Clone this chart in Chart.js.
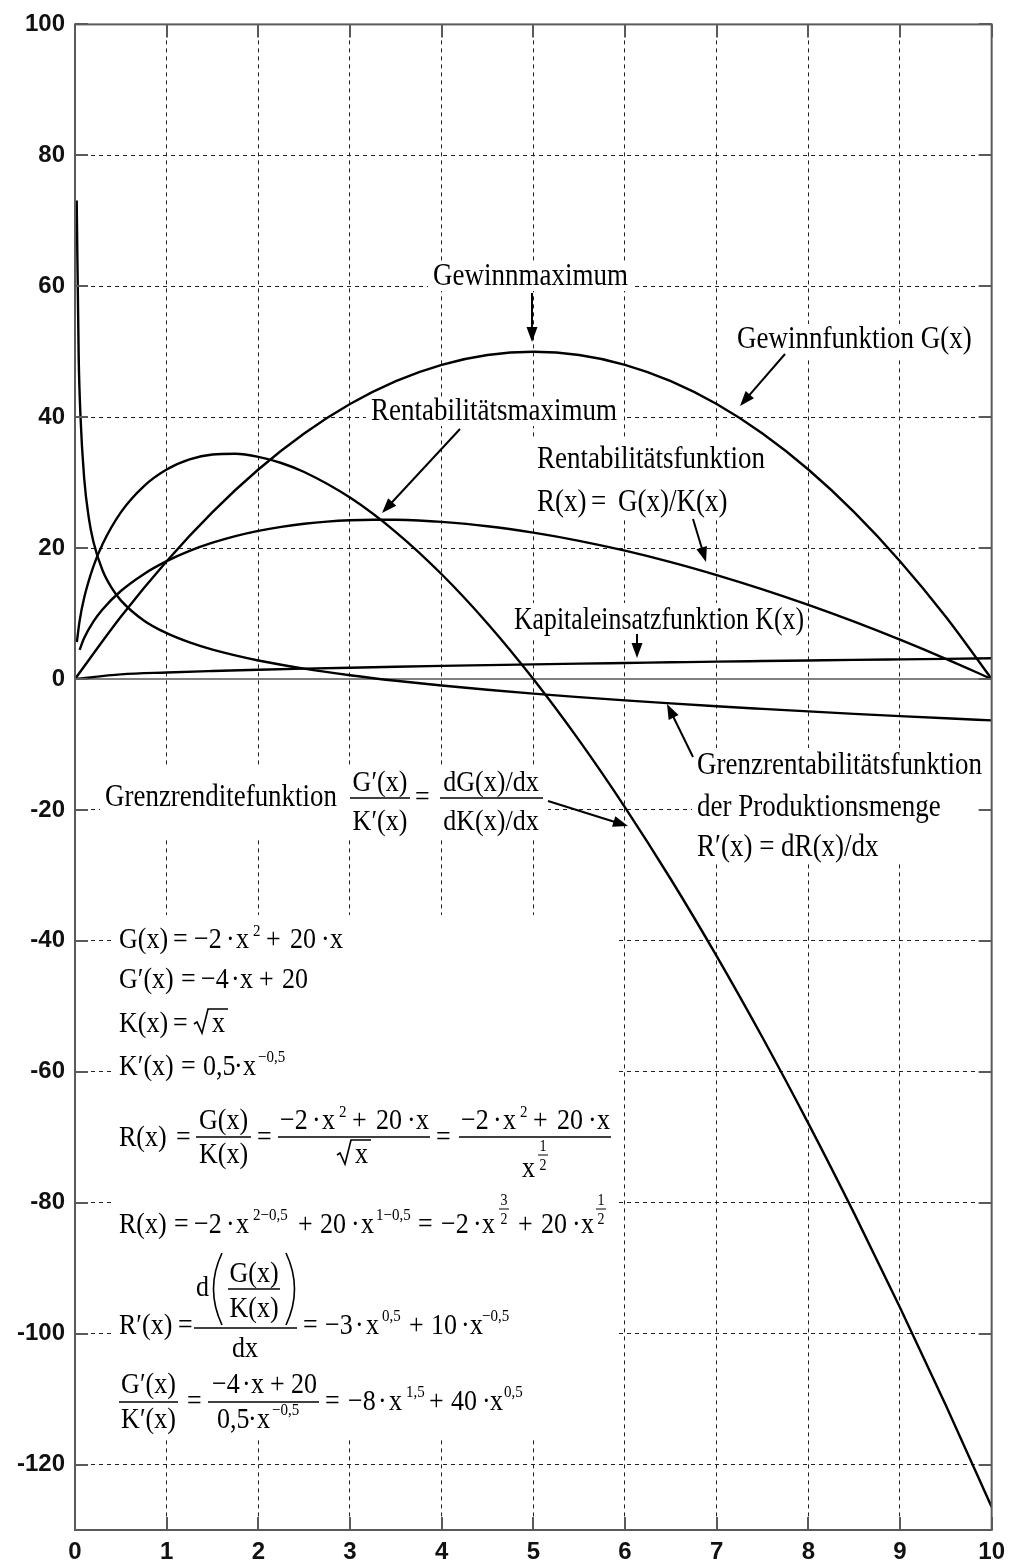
<!DOCTYPE html>
<html>
<head>
<meta charset="utf-8">
<script src="https://cdn.jsdelivr.net/npm/chart.js@4.4.0/dist/chart.umd.min.js"></script>
<style>
html, body { margin: 0; padding: 0; background: #fff; }
#wrap { width: 1013px; height: 1564px; }
</style>
</head>
<body>
<div id="wrap"><canvas id="chart" width="1013" height="1564"></canvas></div>
<script>
// Axis ticks
const xTicks = [0, 1, 2, 3, 4, 5, 6, 7, 8, 9, 10];
const yTicks = [-120, -100, -80, -60, -40, -20, 0, 20, 40, 60, 80, 100];

// Gewinnfunktion G(x) and Kapitaleinsatzfunktion K(x)
const xHalf = [0, 0.5, 1, 1.5, 2, 2.5, 3, 3.5, 4, 4.5, 5, 5.5, 6, 6.5, 7, 7.5, 8, 8.5, 9, 9.5, 10];
const gewinn = [0, 9.5, 18, 25.5, 32, 37.5, 42, 45.5, 48, 49.5, 50, 49.5, 48, 45.5, 42, 37.5, 32, 25.5, 18, 9.5, 0];
const kapital = [0, 0.71, 1, 1.22, 1.41, 1.58, 1.73, 1.87, 2, 2.12, 2.24, 2.35, 2.45, 2.55, 2.65, 2.74, 2.83, 2.92, 3, 3.08, 3.16];

// Rentabilitaetsfunktion R(x)
const xRent = [0.05, 0.1, 0.2, 0.3, 0.5, 0.75, 1, 1.25, 1.5, 1.75, 2, 2.25, 2.5, 2.75, 3, 3.25, 3.5, 3.75, 4, 4.5, 5, 5.5, 6, 6.5, 7, 7.5, 8, 8.5, 9, 9.5, 10];
const rentab = [4.45, 6.26, 8.77, 10.63, 13.44, 16.02, 18, 19.57, 20.82, 21.83, 22.63, 23.25, 23.72, 24.05, 24.25, 24.34, 24.32, 24.21, 24, 23.34, 22.36, 21.11, 19.6, 17.85, 15.87, 13.69, 11.31, 8.75, 6, 3.08, 0];

// Grenzrenditefunktion G'(x)/K'(x)
const xRendite = [0.02, 0.05, 0.1, 0.2, 0.3, 0.5, 0.75, 1, 1.25, 1.5, 1.75, 2, 2.25, 2.5, 3, 3.5, 4, 4.5, 5, 5.5, 6, 6.5, 7, 7.5, 8, 8.5, 9, 9.5, 10];
const grenzRendite = [5.63, 8.85, 12.4, 17.17, 20.59, 25.46, 29.44, 32, 33.54, 34.29, 34.4, 33.94, 33, 31.62, 27.71, 22.45, 16, 8.49, 0, -9.38, -19.6, -30.59, -42.33, -54.77, -67.88, -81.63, -96, -110.96, -126.49];

// Grenzrentabilitaetsfunktion R'(x)
const xGrenzRent = [0.0185, 0.04, 0.06, 0.1, 0.15, 0.2, 0.3, 0.4, 0.5, 0.75, 1, 1.25, 1.5, 2, 2.5, 3, 3.5, 4, 4.5, 5, 5.5, 6, 6.5, 7, 7.5, 8, 8.5, 9, 9.5, 10];
const grenzRentab = [73.1, 49.4, 40.09, 30.67, 24.66, 21.02, 16.61, 13.91, 12.02, 8.95, 7, 5.59, 4.49, 2.83, 1.58, 0.58, -0.27, -1, -1.65, -2.24, -2.77, -3.27, -3.73, -4.16, -4.56, -4.95, -5.32, -5.67, -6, -6.32];

// Nulllinie
const xZero = [0, 10];
const zeroLine = [0, 0];

const SERIF = '"Liberation Serif", "Times New Roman", serif';
const F = 26;     // formula font size
const S = 15;     // superscript font size
const VS = 1.15;  // the scan is a bit taller than wide

function pts(xs, ys) {
    return xs.map((x, i) => ({ x: x, y: ys[i] }));
}

function curve(label, xs, ys) {
    return {
        label: label,
        data: pts(xs, ys),
        borderColor: '#000',
        borderWidth: 2.4,
        pointRadius: 0,
        fill: false,
        cubicInterpolationMode: 'monotone'
    };
}

// ---- drawing helpers for the annotations ----
function draw(ctx, s, x, y, size, align, maxW) {
    ctx.save();
    ctx.font = (size || F) + 'px ' + SERIF;
    ctx.textAlign = align;
    ctx.textBaseline = 'alphabetic';
    ctx.translate(x, y);
    ctx.scale(1, VS);
    if (maxW) ctx.fillText(s, 0, 0, maxW);
    else ctx.fillText(s, 0, 0);
    ctx.restore();
}

function txt(ctx, s, x, y, size, maxW) {
    draw(ctx, s, x, y, size, 'left', maxW);
}

function ctr(ctx, s, cx, y, size) {
    draw(ctx, s, cx, y, size, 'center');
}

function hbar(ctx, x0, x1, y, w) {
    ctx.lineWidth = w || 1.6;
    ctx.beginPath();
    ctx.moveTo(x0, y);
    ctx.lineTo(x1, y);
    ctx.stroke();
}

function supFrac(ctx, a, b, cx, barY) {
    ctr(ctx, a, cx, barY - 4, 14);
    hbar(ctx, cx - 5, cx + 5, barY, 1);
    ctr(ctx, b, cx, barY + 15, 14);
}

function radical(ctx, x, base, w) {
    ctx.lineWidth = 1.6;
    ctx.beginPath();
    ctx.moveTo(x, base - 8);
    ctx.lineTo(x + 3, base - 10);
    ctx.lineTo(x + 8, base + 1);
    ctx.lineTo(x + 14, base - 23);
    ctx.lineTo(x + 14 + w, base - 23);
    ctx.stroke();
}

function arrow(ctx, x0, y0, x1, y1) {
    const a = Math.atan2(y1 - y0, x1 - x0);
    const len = 15, half = 5.5;
    ctx.lineWidth = 2;
    ctx.beginPath();
    ctx.moveTo(x0, y0);
    ctx.lineTo(x1 - Math.cos(a) * len * 0.8, y1 - Math.sin(a) * len * 0.8);
    ctx.stroke();
    ctx.beginPath();
    ctx.moveTo(x1, y1);
    ctx.lineTo(x1 - Math.cos(a) * len - Math.sin(a) * half, y1 - Math.sin(a) * len + Math.cos(a) * half);
    ctx.lineTo(x1 - Math.cos(a) * len + Math.sin(a) * half, y1 - Math.sin(a) * len - Math.cos(a) * half);
    ctx.closePath();
    ctx.fill();
}

// -2·x^2 + 20·x
function poly(ctx, x0, b) {
    txt(ctx, '\u22122', x0, b);
    txt(ctx, '\u00b7', x0 + 32, b);
    txt(ctx, 'x', x0 + 42, b);
    txt(ctx, '2', x0 + 59, b - 12, S);
    txt(ctx, '+', x0 + 72, b);
    txt(ctx, '20', x0 + 96, b);
    txt(ctx, '\u00b7', x0 + 127, b);
    txt(ctx, 'x', x0 + 136, b);
}

// white patches behind the text blocks
const patches = [
    [428, 262, 206, 29],
    [732, 324, 250, 34],
    [366, 398, 258, 28],
    [532, 440, 240, 80],
    [500, 603, 308, 34],
    [692, 748, 298, 114],
    [100, 768, 448, 72],
    [111, 915, 507, 525]
];

const annotations = {
    id: 'annotations',
    beforeDatasetsDraw(chart) {
        const ctx = chart.ctx;
        ctx.save();
        ctx.fillStyle = '#fff';
        patches.forEach(p => ctx.fillRect(p[0], p[1], p[2], p[3]));
        ctx.restore();
    },
    afterDatasetsDraw(chart) {
        const ctx = chart.ctx;
        const a = chart.chartArea;
        const xs = chart.scales.x, ys = chart.scales.y;
        ctx.save();

        // frame and inner tick marks
        ctx.strokeStyle = '#5a5a5a';
        ctx.lineWidth = 2;
        ctx.strokeRect(a.left, a.top, a.right - a.left, a.bottom - a.top);
        ctx.beginPath();
        yTicks.forEach(v => {
            const py = Math.round(ys.getPixelForValue(v));
            ctx.moveTo(a.left, py); ctx.lineTo(a.left + 13, py);
            ctx.moveTo(a.right - 13, py); ctx.lineTo(a.right, py);
        });
        xTicks.forEach(v => {
            const px = Math.round(xs.getPixelForValue(v));
            ctx.moveTo(px, a.top); ctx.lineTo(px, a.top + 13);
            ctx.moveTo(px, a.bottom - 13); ctx.lineTo(px, a.bottom);
        });
        ctx.stroke();

        ctx.fillStyle = '#000';
        ctx.strokeStyle = '#000';

        // labels
        txt(ctx, 'Gewinnmaximum', 433, 285, 27, 196);
        arrow(ctx, 532, 293, 532, 342);

        txt(ctx, 'Gewinnfunktion G(x)', 737, 348, 27, 240);
        arrow(ctx, 785, 354, 740, 406);

        txt(ctx, 'Rentabilit\u00e4tsmaximum', 371, 420, 27, 248);
        arrow(ctx, 460, 429, 382, 513);

        txt(ctx, 'Rentabilit\u00e4tsfunktion', 537, 468, 27, 231);
        txt(ctx, 'R(x)', 537, 511, 27);
        txt(ctx, '=', 591, 511, 27);
        txt(ctx, 'G(x)/K(x)', 618, 511, 27);
        arrow(ctx, 693, 519, 706, 562);

        txt(ctx, 'Kapitaleinsatzfunktion K(x)', 514, 629, 27, 290);
        arrow(ctx, 637, 634, 637, 658);

        txt(ctx, 'Grenzrentabilit\u00e4tsfunktion', 697, 774, 27, 286);
        txt(ctx, 'der Produktionsmenge', 697, 816, 27);
        txt(ctx, 'R\u2032(x) = dR(x)/dx', 697, 856, 27);
        arrow(ctx, 693, 757, 667, 704);

        // Grenzrenditefunktion G'(x)/K'(x) = dG(x)/dx / dK(x)/dx
        txt(ctx, 'Grenzrenditefunktion', 105, 806, 27, 232);
        ctr(ctx, 'G\u2032(x)', 380, 791);
        hbar(ctx, 350, 410, 798);
        ctr(ctx, 'K\u2032(x)', 380, 830);
        txt(ctx, '=', 415, 806);
        ctr(ctx, 'dG(x)/dx', 491, 791);
        hbar(ctx, 440, 543, 798);
        ctr(ctx, 'dK(x)/dx', 491, 830);
        arrow(ctx, 548, 801, 628, 826);

        // formula block
        let b = 948;
        txt(ctx, 'G(x)', 119, b); txt(ctx, '=', 173, b);
        poly(ctx, 194, b);

        b = 988;
        txt(ctx, 'G\u2032(x)', 119, b); txt(ctx, '=', 181, b);
        txt(ctx, '\u22124', 201, b); txt(ctx, '\u00b7', 231, b); txt(ctx, 'x', 240, b);
        txt(ctx, '+', 259, b); txt(ctx, '20', 282, b);

        b = 1032;
        txt(ctx, 'K(x)', 119, b); txt(ctx, '=', 173, b);
        radical(ctx, 194, b, 20);
        txt(ctx, 'x', 212, b);

        b = 1075;
        txt(ctx, 'K\u2032(x)', 119, b); txt(ctx, '=', 181, b);
        txt(ctx, '0,5', 203, b); txt(ctx, '\u00b7', 234, b); txt(ctx, 'x', 243, b);
        txt(ctx, '\u22120,5', 258, b - 13, S);

        // R(x) = G(x)/K(x) = ...
        let bar = 1137;
        b = bar + 9;
        txt(ctx, 'R(x)', 119, b); txt(ctx, '=', 176, b);
        ctr(ctx, 'G(x)', 223.5, bar - 8); hbar(ctx, 196, 251, bar); ctr(ctx, 'K(x)', 223.5, bar + 26);
        txt(ctx, '=', 257, b);
        poly(ctx, 280, bar - 8); hbar(ctx, 278, 430, bar);
        radical(ctx, 337, bar + 26, 20); txt(ctx, 'x', 355, bar + 26);
        txt(ctx, '=', 436, b);
        poly(ctx, 461, bar - 8); hbar(ctx, 459, 611, bar);
        txt(ctx, 'x', 522, 1177);
        supFrac(ctx, '1', '2', 543, 1155);

        // R(x) = -2 x^(2-0,5) + 20 x^(1-0,5) = -2 x^(3/2) + 20 x^(1/2)
        b = 1233;
        txt(ctx, 'R(x)', 119, b); txt(ctx, '=', 174, b);
        txt(ctx, '\u22122', 194, b); txt(ctx, '\u00b7', 226, b); txt(ctx, 'x', 236, b);
        txt(ctx, '2\u22120,5', 253, b - 13, S);
        txt(ctx, '+', 298, b); txt(ctx, '20', 320, b); txt(ctx, '\u00b7', 351, b); txt(ctx, 'x', 361, b);
        txt(ctx, '1\u22120,5', 376, b - 13, S);
        txt(ctx, '=', 418, b);
        txt(ctx, '\u22122', 441, b); txt(ctx, '\u00b7', 473, b); txt(ctx, 'x', 482, b);
        supFrac(ctx, '3', '2', 504, 1209);
        txt(ctx, '+', 518, b); txt(ctx, '20', 541, b); txt(ctx, '\u00b7', 572, b); txt(ctx, 'x', 581, b);
        supFrac(ctx, '1', '2', 601, 1209);

        // R'(x) = d(G(x)/K(x))/dx = -3 x^0,5 + 10 x^-0,5
        b = 1334;
        txt(ctx, 'R\u2032(x)', 119, b); txt(ctx, '=', 178, b);
        hbar(ctx, 194, 297, 1328);
        txt(ctx, 'd', 196, 1296);
        ctx.lineWidth = 1.6;
        ctx.beginPath();
        ctx.moveTo(222, 1253); ctx.quadraticCurveTo(205, 1289, 222, 1325);
        ctx.moveTo(286, 1253); ctx.quadraticCurveTo(303, 1289, 286, 1325);
        ctx.stroke();
        ctr(ctx, 'G(x)', 254, 1282); hbar(ctx, 228, 280, 1289); ctr(ctx, 'K(x)', 254, 1317);
        ctr(ctx, 'dx', 245, 1357);
        txt(ctx, '=', 303, b);
        txt(ctx, '\u22123', 325, b); txt(ctx, '\u00b7', 355, b); txt(ctx, 'x', 366, b);
        txt(ctx, '0,5', 382, b - 13, S);
        txt(ctx, '+', 409, b); txt(ctx, '10', 431, b); txt(ctx, '\u00b7', 461, b); txt(ctx, 'x', 470, b);
        txt(ctx, '\u22120,5', 482, b - 13, S);

        // G'(x)/K'(x) = (-4x+20)/(0,5 x^-0,5) = -8 x^1,5 + 40 x^0,5
        bar = 1402;
        b = bar + 8;
        ctr(ctx, 'G\u2032(x)', 148.5, bar - 9); hbar(ctx, 119, 178, bar); ctr(ctx, 'K\u2032(x)', 148.5, bar + 26);
        txt(ctx, '=', 187, b);
        txt(ctx, '\u22124', 212, bar - 9); txt(ctx, '\u00b7', 242, bar - 9); txt(ctx, 'x', 251, bar - 9);
        txt(ctx, '+', 270, bar - 9); txt(ctx, '20', 291, bar - 9);
        hbar(ctx, 208, 319, bar);
        txt(ctx, '0,5', 217, bar + 26); txt(ctx, '\u00b7', 248, bar + 26); txt(ctx, 'x', 257, bar + 26);
        txt(ctx, '\u22120,5', 272, bar + 13, S);
        txt(ctx, '=', 325, b);
        txt(ctx, '\u22128', 348, b); txt(ctx, '\u00b7', 378, b); txt(ctx, 'x', 389, b);
        txt(ctx, '1,5', 406, b - 13, S);
        txt(ctx, '+', 429, b); txt(ctx, '40', 451, b); txt(ctx, '\u00b7', 482, b); txt(ctx, 'x', 490, b);
        txt(ctx, '0,5', 504, b - 13, S);

        ctx.restore();
    }
};

const tickFont = { family: '"Liberation Sans", Arial, sans-serif', size: 24, weight: 'bold' };

new Chart(document.getElementById('chart'), {
    type: 'line',
    data: {
        datasets: [
            curve('Gewinnfunktion G(x)', xHalf, gewinn),
            curve('Rentabilitätsfunktion R(x)', xRent, rentab),
            curve('Grenzrenditefunktion', xRendite, grenzRendite),
            curve('Grenzrentabilitätsfunktion', xGrenzRent, grenzRentab),
            curve('Kapitaleinsatzfunktion K(x)', xHalf, kapital),
            {
                label: 'Null',
                data: pts(xZero, zeroLine),
                borderColor: '#808080',
                borderWidth: 2,
                pointRadius: 0
            }
        ]
    },
    options: {
        responsive: false,
        animation: false,
        events: [],
        layout: { padding: { top: 21, right: 18, left: 0, bottom: 0 } },
        plugins: {
            legend: { display: false },
            tooltip: { enabled: false }
        },
        scales: {
            x: {
                type: 'linear',
                min: 0,
                max: 10,
                afterBuildTicks: scale => { scale.ticks = xTicks.map(v => ({ value: v })); },
                afterFit: scale => { scale.height = 34; },
                grid: { color: '#222', lineWidth: 1, drawTicks: false },
                border: { display: false, dash: [4, 4] },
                ticks: { font: tickFont, color: '#111', padding: 8, maxRotation: 0 }
            },
            y: {
                type: 'linear',
                min: -130,
                max: 100,
                afterBuildTicks: scale => { scale.ticks = yTicks.map(v => ({ value: v })); },
                afterFit: scale => { scale.width = 75; },
                grid: { color: '#222', lineWidth: 1, drawTicks: false },
                border: { display: false, dash: [4, 4] },
                ticks: { font: tickFont, color: '#111', padding: 10 }
            }
        }
    },
    plugins: [annotations]
});
</script>
</body>
</html>
